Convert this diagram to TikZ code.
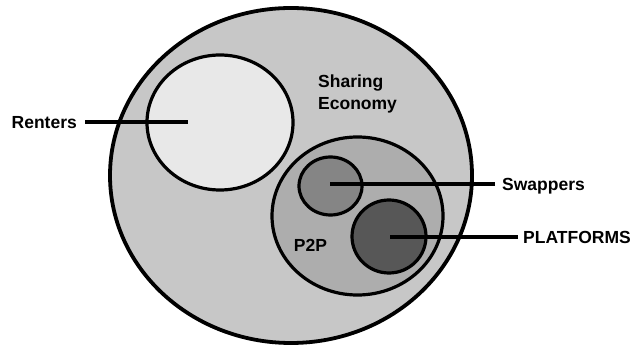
\documentclass[tikz,border=0pt]{standalone}
\usepackage{fontspec}
\setmainfont{Liberation Sans}
\usetikzlibrary{shapes.geometric}
\definecolor{economyfill}{gray}{0.78}
\definecolor{rentfill}{gray}{0.91}
\definecolor{ptwopfill}{gray}{0.68}
\definecolor{swapfill}{gray}{0.52}
\definecolor{platfill}{gray}{0.34}
\tikzset{
  set/.style={ellipse, draw, line width=3.2pt, inner sep=0pt},
  tag/.style={font=\bfseries\fontsize{17.5}{21}\selectfont, inner sep=0pt,
    text height=12.5pt, text depth=0pt},
  lead/.style={line width=4.5pt}
}
\begin{document}
\begin{tikzpicture}[x=1pt,y=1pt]
      \useasboundingbox (0,0) rectangle (636,345);
      \node[set, line width=3.8pt, fill=economyfill,
        minimum width=362pt, minimum height=335pt] (economy) at (291,169.5) {};
      \node[set, fill=rentfill, minimum width=146pt, minimum height=135pt] (rent) at (220,222.5) {};
      \node[set, fill=ptwopfill, minimum width=171pt, minimum height=158pt] (ptwop) at (357.5,129) {};
      \node[set, fill=swapfill, minimum width=63pt, minimum height=58pt] (swap) at (330.5,159) {};
      \node[set, fill=platfill, minimum width=74pt, minimum height=73pt] (plat) at (389,108.5) {};
      \node[font=\bfseries\fontsize{17.5}{21.5}\selectfont, inner sep=0pt,
        align=left, anchor=west] (sharing) at (318,251) {Sharing\\Economy};
      \node[tag] (ptwoplabel) at (310.5,100) {P2P};
      \node[tag, anchor=east] (renters) at (77,223) {Renters};
      \node[tag, anchor=west] (swappers) at (502,161) {Swappers};
      \node[tag, anchor=west] (platforms) at (523,108) {PLATFORMS};
      \coordinate (rentend) at (188,223);
      \coordinate (swapend) at (330,161);
      \coordinate (platend) at (390,108);
      \begin{scope}[lead]
        \draw[shorten <=8pt] (renters) to (rentend);
        \draw[shorten <=7pt] (swappers) to (swapend);
        \draw[shorten <=5pt] (platforms) to (platend);
      \end{scope}
    \end{tikzpicture}
\end{document}
